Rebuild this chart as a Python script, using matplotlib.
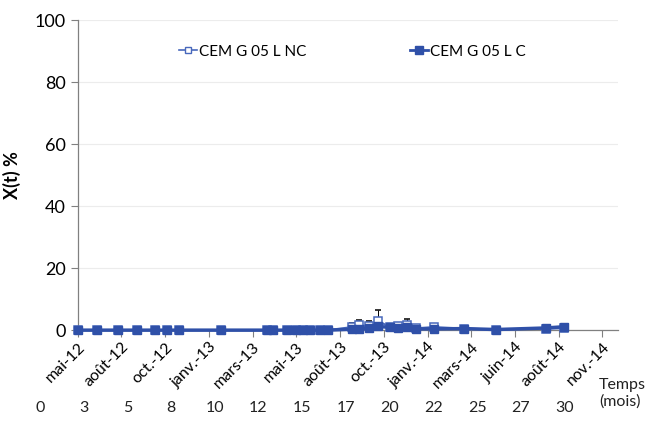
import numpy as np
import matplotlib.pyplot as plt
from matplotlib.lines import Line2D

plt.rcParams['font.family'] = ['Lato', 'DejaVu Sans']

# temps en mois depuis mai-12
temps = [0.0, 1.1, 2.3, 3.4, 4.4, 5.1, 5.8, 8.2, 10.8, 11.15, 11.95, 12.5, 12.9, 13.3,
         13.85, 14.3, 15.7, 16.1, 16.65, 17.15, 17.85, 18.3, 18.8, 19.35, 20.35, 22.1,
         23.9, 26.75, 27.8]
x_nc = [0, 0, 0, 0, 0, 0, 0, 0, 0, 0, 0, 0, 0, 0,
        0, 0, 1.0, 1.6, 1.2, 3.0, 1.0, 1.2, 1.8, 0.6, 1.0, 0.5,
        0.2, 0.5, 0.6]
err_nc = [0, 0, 0, 0, 0, 0, 0, 0, 0, 0, 0, 0, 0, 0,
          0, 0, 1.2, 1.8, 1.8, 3.5, 1.0, 1.2, 1.8, 0.4, 0.5, 0.3,
          0.1, 0.3, 1.4]
x_c = [0, 0, 0, 0, 0, 0, 0, 0, 0, 0, 0, 0, 0, 0,
       0, 0, 0.3, 0.4, 0.7, 1.2, 0.9, 0.8, 1.0, 0.4, 0.4, 0.5,
       0.2, 0.7, 1.1]

tick_labels = ['mai-12', 'août-12', 'oct.-12', 'janv.-13', 'mars-13', 'mai-13', 'août-13',
               'oct.-13', 'janv.-14', 'mars-14', 'juin-14', 'août-14', 'nov.-14']
mois_labels = ['0', '3', '5', '8', '10', '12', '15', '17', '20', '22', '25', '27', '30']

c_nc = '#4868BC'
c_c = '#2F50A8'

fig = plt.figure(figsize=(6.48, 4.26), dpi=100)
ax = fig.add_axes([0.12, 0.225, 0.834, 0.728])

ax.errorbar(temps, x_nc, yerr=[np.zeros(len(err_nc)), err_nc], color=c_nc, lw=1.5,
            marker='s', ms=5.5, mfc='white', mec=c_nc, mew=1.1,
            ecolor='black', elinewidth=0.7, capsize=2.5, zorder=3, clip_on=False)
ax.plot(temps, x_c, color=c_c, lw=2.5, marker='s', ms=6, zorder=4, clip_on=False)

ticks = np.arange(0, 31, 2.5)
ax.set_xticks(ticks)
ax.set_xticklabels(tick_labels, rotation=45, ha='right', rotation_mode='anchor', fontsize=11.5)
ax.set_xlim(0, 30.9)
ax.set_ylim(0, 100)
ax.set_yticks(range(0, 101, 20))
ax.tick_params(axis='y', labelsize=13, length=5, color='#808080', width=0.8)
ax.tick_params(axis='x', length=5, color='#808080', width=0.8, pad=2)
ax.grid(axis='y', color='#ececec', lw=0.8)
ax.set_axisbelow(True)
for s in ['top', 'right']:
    ax.spines[s].set_visible(False)
for s in ['left', 'bottom']:
    ax.spines[s].set_color('#808080')
    ax.spines[s].set_linewidth(0.9)

ax.set_ylabel('X(t) %', fontsize=13, fontweight='bold', labelpad=10)

for t, lab in zip(ticks, mois_labels):
    ax.text(t - 2.17, -0.252, lab, transform=ax.get_xaxis_transform(),
            ha='center', va='center', fontsize=11.5, color='#222222')
ax.text(29.8, -0.155, 'Temps\n(mois)', transform=ax.get_xaxis_transform(),
        ha='left', va='top', fontsize=11.5, color='#222222', linespacing=1.2)

handles = [Line2D([], [], color=c_nc, lw=1.2, marker='s', ms=5, mfc='white', mec=c_nc),
           Line2D([], [], color=c_c, lw=2, marker='s', ms=5.5)]
ax.legend(handles, ['CEM G 05 L NC', 'CEM G 05 L C'], loc='upper center',
          bbox_to_anchor=(0.508, 0.965), ncol=2, frameon=False,
          fontsize=11, handlelength=1.2, handletextpad=0.1, columnspacing=6.8)

fig.savefig('out.png', dpi=100)
